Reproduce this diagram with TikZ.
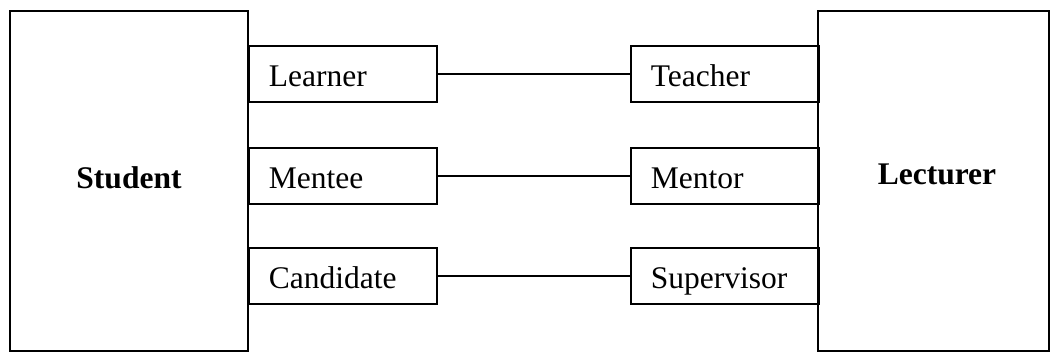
\documentclass[tikz,border=0pt]{standalone}
\usepackage{fontspec}
\setmainfont{Liberation Serif}
\begin{document}
\begin{tikzpicture}[x=1pt,y=-1pt,line width=1.7pt,
  bigbox/.style={draw,rectangle,inner sep=0pt,font=\fontsize{31.5}{36}\selectfont\bfseries},
  rolebox/.style={draw,rectangle,inner xsep=20pt,inner ysep=0pt,minimum height=56pt,text width=148pt,text height=30pt,text depth=4pt,align=left,anchor=north west,font=\fontsize{31.5}{36}\selectfont},
  link/.style={draw,line width=1.7pt}]
\useasboundingbox (0,0) rectangle (1051,353);
\node[bigbox,minimum width=238pt,minimum height=340pt] (student) at (129,181) {\raisebox{6pt}{Student}};
\node[bigbox,minimum width=231pt,minimum height=340pt] (lecturer) at (933.5,181) {\hspace*{7pt}\raisebox{13pt}{Lecturer}};
\node[rolebox] (learner) at (248,45) {Learner};
\node[rolebox] (mentee) at (248,147) {Mentee};
\node[rolebox] (candidate) at (248,247) {Candidate};
\node[rolebox] (teacher) at (630,45) {Teacher};
\node[rolebox] (mentor) at (630,147) {Mentor};
\node[rolebox] (supervisor) at (630,247) {Supervisor};
\draw[link] (learner) -- (teacher);
\draw[link] (mentee) -- (mentor);
\draw[link] (candidate) -- (supervisor);
\end{tikzpicture}
\end{document}
